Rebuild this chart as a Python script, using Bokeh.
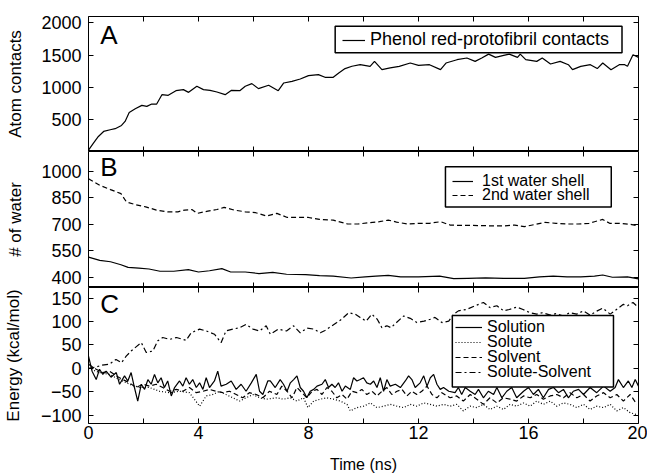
from bokeh.plotting import figure
from bokeh.layouts import column
from bokeh.models import (FixedTicker, LinearAxis, Range1d, Label, CustomJSTickFormatter,
                          Legend, LegendItem, BoxAnnotation)
from bokeh.embed import file_html
from bokeh.resources import INLINE

FONT = "Liberation Sans"

# ---------------- Panel A: atom contacts ----------------
time_a = [0, 0.18, 0.36, 0.55, 0.79, 0.97, 1.2, 1.33, 1.48, 1.7,
          1.94, 2.12, 2.3, 2.48, 2.67, 2.9, 3.18, 3.45, 3.64, 3.94,
          4.18, 4.42, 4.67, 4.97, 5.2, 5.5, 5.7, 5.94, 6.18, 6.55,
          6.9, 7.1, 7.4, 7.7, 8.0, 8.36, 8.6, 8.9, 9.1, 9.33,
          9.58, 9.88, 10.24, 10.4, 10.67, 10.97, 11.3, 11.7, 12.0, 12.4,
          12.8, 13.0, 13.4, 13.76, 14.06, 14.3, 14.55, 14.8, 15.1, 15.3,
          15.6, 15.7, 15.9, 16.3, 16.5, 16.8, 17.15, 17.45, 17.6, 17.9,
          18.25, 18.5, 18.7, 19.0, 19.3, 19.5, 19.6, 19.8, 20.0]
contacts = [20, 130, 234, 312, 338, 355, 405, 468, 608, 665,
            718, 702, 738, 738, 884, 874, 946, 962, 920, 1014,
            962, 952, 926, 884, 952, 946, 1014, 1056, 978, 1030,
            946, 1066, 1092, 1128, 1180, 1196, 1154, 1154, 1222, 1290,
            1326, 1350, 1325, 1402, 1273, 1300, 1325, 1376, 1340, 1350,
            1273, 1376, 1428, 1454, 1402, 1454, 1515, 1464, 1495, 1515,
            1464, 1515, 1428, 1402, 1454, 1361, 1402, 1350, 1273, 1325,
            1350, 1290, 1376, 1273, 1350, 1350, 1325, 1505, 1464]

# ---------------- Panel B: water shells ----------------
time_shell1 = [0, 0.41, 0.8, 1.18, 1.44, 1.83, 2.2, 2.6, 3.1, 3.63,
               4.0, 4.4, 4.85, 5.17, 5.7, 6.2, 6.7, 7.2, 7.9, 8.4,
               8.9, 9.55, 10.06, 10.45, 10.9, 11.35, 12.0, 12.77, 13.28, 13.8,
               14.44, 15.1, 15.85, 16.4, 16.9, 17.4, 17.9, 18.4, 18.7, 19.05,
               19.6, 20.0]
shell1 = [514, 496, 488, 471, 456, 452, 447, 434, 434, 443,
          430, 437, 449, 430, 430, 421, 428, 417, 415, 409,
          406, 396, 402, 406, 411, 402, 402, 406, 392, 394,
          396, 394, 394, 402, 406, 402, 402, 406, 413, 400,
          402, 391]
time_shell2 = [0, 0.41, 0.8, 1.18, 1.38, 1.7, 2.08, 2.47, 2.87, 3.25,
               3.5, 3.76, 3.95, 4.34, 4.67, 4.93, 5.3, 5.7, 6.08, 6.47,
               6.85, 7.23, 7.6, 8.0, 8.4, 8.9, 9.42, 9.8, 10.2, 10.58,
               10.9, 11.2, 11.6, 12.0, 12.4, 12.8, 13.15, 13.5, 13.9, 14.3,
               14.7, 15.1, 15.5, 15.85, 16.25, 16.6, 17.0, 17.4, 17.8, 18.2,
               18.4, 18.7, 18.95, 19.3, 19.7, 20.0]
shell2 = [959, 921, 897, 874, 827, 812, 799, 781, 771, 771,
          781, 784, 762, 775, 784, 796, 781, 771, 766, 747,
          762, 739, 739, 739, 728, 724, 702, 702, 709, 715,
          724, 713, 702, 706, 706, 715, 696, 694, 694, 693,
          691, 691, 696, 687, 700, 711, 706, 702, 702, 706,
          715, 728, 706, 706, 700, 691]

# ---------------- Panel C: energies ----------------
time_solution = [0.0, 0.13, 0.28, 0.40, 0.52, 0.64, 0.82, 1.01, 1.13, 1.31,
                 1.43, 1.55, 1.67, 1.79, 1.92, 2.04, 2.16, 2.28, 2.40, 2.52,
                 2.64, 2.76, 2.88, 3.01, 3.13, 3.31, 3.43, 3.55, 3.67, 3.79,
                 3.92, 4.04, 4.16, 4.28, 4.40, 4.58, 4.70, 4.82, 5.01, 5.19,
                 5.37, 5.55, 5.73, 5.92, 6.10, 6.22, 6.34, 6.52,
                 6.61, 6.79, 6.97, 7.09, 7.22, 7.34, 7.46, 7.58, 7.70, 7.82,
                 7.94, 8.06, 8.19, 8.31, 8.49, 8.61, 8.73, 8.85, 8.97, 9.09,
                 9.22, 9.34, 9.52, 9.64, 9.76, 9.88, 10.0, 10.12, 10.25, 10.37,
                 10.49, 10.61, 10.73, 10.85, 10.97, 11.16, 11.34, 11.52, 11.64, 11.76,
                 11.88, 12.06, 12.19, 12.31, 12.43, 12.55, 12.67, 12.79, 12.91, 13.1,
                 13.33, 13.45, 13.57, 13.7, 13.88, 14.06, 14.18, 14.36, 14.54, 14.73,
                 14.85, 15.03, 15.21, 15.39, 15.57, 15.82, 16.0, 16.18, 16.36, 16.54,
                 16.73, 16.91, 17.09, 17.27, 17.45, 17.63, 17.82, 18.0, 18.24, 18.48,
                 18.73, 18.97, 19.15, 19.27, 19.45, 19.63, 19.76, 19.88, 20.0]
solution = [26, -6, -24, -2, -13, -6, -19, -9, -34, -16,
            -27, -9, -41, -70, -34, -45, -24, -34, -13, -31,
            -20, -41, -27, -59, -41, -27, -38, -20, -34, -24,
            -41, -31, -45, -20, -41, -27, -6, -38, -34, -27,
            -45, -34, -49, -31, -13, -49, -56, -27,
            -27, -41, -24, -34, -49, -31, -24, -16, -41, -49,
            -63, -49, -45, -38, -34, -24, -41, -34, -41, -31,
            -49, -38, -45, -20, -27, -24, -20, -31, -34, -27,
            -41, -20, -49, -24, -38, -34, -41, -27, -16, -24,
            -41, -31, -16, -38, -20, -13, -34, -45, -41, -49,
            -52, -41, -56, -41, -49, -56, -45, -63, -49, -56,
            -41, -63, -49, -41, -63, -49, -41, -56, -45, -63,
            -45, -41, -52, -45, -63, -49, -45, -56, -41, -52,
            -38, -49, -41, -24, -41, -27, -41, -24, -38]

time_solute = [0.0, 0.4, 0.76, 1.13, 1.49, 1.85, 2.22, 2.58, 2.95, 3.31,
               3.67, 4.04, 4.28, 4.52, 4.76, 5.0, 5.25, 5.49, 5.73, 5.98,
               6.22, 6.46, 6.85, 7.09, 7.34, 7.58, 7.82, 7.98, 8.19, 8.43,
               8.67, 8.91, 9.16, 9.4, 9.52, 9.76, 10.0, 10.25, 10.49, 10.73,
               10.97, 11.22, 11.46, 11.7, 11.94, 12.19, 12.43, 12.67, 12.91, 13.15,
               13.39, 13.63, 13.88, 14.12, 14.36, 14.6, 14.85, 15.09, 15.33, 15.57,
               15.82, 16.06, 16.3, 16.54, 16.79, 17.03, 17.27, 17.51, 17.76, 18.0,
               18.24, 18.48, 18.73, 18.97, 19.21, 19.45, 19.7, 19.94]
solute = [0, -9, -13, -24, -34, -41, -41, -49, -52, -49,
          -52, -81, -59, -56, -49, -56, -63, -70, -63, -56,
          -63, -66, -63, -66, -63, -70, -63, -84, -70, -66,
          -63, -66, -70, -77, -91, -84, -81, -74, -84, -81,
          -77, -81, -84, -77, -81, -74, -77, -81, -77, -81,
          -77, -91, -81, -84, -77, -88, -81, -88, -77, -81,
          -74, -81, -70, -77, -70, -81, -74, -77, -84, -77,
          -88, -81, -84, -77, -91, -84, -95, -99]

time_solvent = [0.0, 0.28, 0.52, 0.76, 1.01, 1.25, 1.49, 1.73, 1.98, 2.22,
                2.46, 2.7, 2.95, 3.19, 3.43, 3.67, 3.92, 4.16, 4.4, 4.64,
                4.88, 5.13, 5.37, 5.61, 5.85, 6.1, 6.34, 6.58, 6.85, 7.03,
                7.22, 7.4, 7.58, 7.76, 7.94, 8.13, 8.31, 8.49, 8.67, 8.85,
                9.03, 9.22, 9.4, 9.58, 9.76, 9.94, 10.12, 10.31, 10.49, 10.67,
                10.85, 11.03, 11.22, 11.4, 11.58, 11.76, 11.94, 12.12, 12.31, 12.49,
                12.67, 12.85, 13.03, 13.15, 13.39, 13.63, 13.88, 14.12, 14.36, 14.6,
                14.85, 15.09, 15.33, 15.57, 15.82, 16.06, 16.3, 16.54, 16.79, 17.03,
                17.27, 17.51, 17.76, 18.0, 18.24, 18.48, 18.73, 18.97, 19.21, 19.45,
                19.7, 19.94]
solvent = [9, -2, -9, -6, -16, -24, -31, -41, -34, -38,
           -34, -41, -49, -45, -49, -41, -52, -49, -45, -49,
           -52, -49, -56, -63, -52, -56, -63, -49, -56, -38,
           -49, -63, -41, -52, -63, -49, -45, -56, -41, -49,
           -63, -56, -66, -49, -52, -45, -56, -49, -59, -49,
           -41, -56, -49, -45, -59, -49, -56, -49, -38, -56,
           -63, -52, -59, -63, -59, -70, -56, -66, -77, -63,
           -74, -63, -66, -70, -59, -63, -56, -66, -59, -56,
           -63, -52, -63, -56, -70, -59, -52, -63, -56, -70,
           -56, -77]

time_solute_solvent = [0.0, 0.28, 0.5, 0.76, 1.0, 1.2, 1.37, 1.55, 1.73, 1.92,
                       2.1, 2.34, 2.52, 2.7, 2.95, 3.2, 3.55, 3.73, 4.04, 4.28,
                       4.58, 4.82, 5.0, 5.25, 5.5, 5.73, 5.98, 6.22, 6.46, 6.61,
                       6.9, 7.2, 7.46, 7.7, 7.94, 8.2, 8.43, 8.6, 8.85, 9.03,
                       9.2, 9.46, 9.7, 9.88, 10.1, 10.3, 10.5, 10.67, 10.85, 11.0,
                       11.2, 11.46, 11.7, 11.94, 12.2, 12.43, 12.6, 12.85, 13.1, 13.28,
                       13.45, 13.75, 14.06, 14.36, 14.6, 14.85, 15.1, 15.3, 15.57, 15.8,
                       16.06, 16.3, 16.5, 16.8, 17.0, 17.27, 17.5, 17.75, 18.0, 18.24,
                       18.5, 18.7, 18.97, 19.2, 19.45, 19.6, 19.8, 20.0]
solute_solvent = [0, 3, 7, 9, 19, 12, 26, 37, 46, 55,
                  34, 37, 59, 66, 62, 66, 60, 76, 84, 80,
                  73, 55, 80, 84, 87, 94, 84, 80, 91, 73,
                  84, 80, 91, 76, 86, 84, 76, 81, 91, 98,
                  105, 119, 116, 109, 101, 116, 105, 87, 91, 87,
                  98, 112, 107, 98, 101, 105, 109, 98, 101, 116,
                  123, 126, 134, 141, 130, 134, 123, 126, 131, 126,
                  119, 116, 119, 114, 117, 112, 119, 116, 123, 114,
                  123, 129, 116, 126, 137, 134, 141, 130]

x_major_ticks = [0, 4, 8, 12, 16, 20]
x_minor_ticks = [2, 6, 10, 14, 18]
ticks_a = [500, 1000, 1500, 2000]
ticks_b = [400, 550, 700, 850, 1000]
ticks_c = [-100, -50, 0, 50, 100, 150]

BLANK = CustomJSTickFormatter(code="return ''")


def style_axis(ax, show_labels):
    ax.axis_line_color = None
    ax.major_tick_in = 5
    ax.major_tick_out = 0
    ax.minor_tick_in = 5
    ax.minor_tick_out = 0
    ax.major_tick_line_color = "black"
    ax.minor_tick_line_color = "black"
    ax.major_tick_line_width = 1
    ax.minor_tick_line_width = 1
    ax.major_label_text_font = FONT
    ax.major_label_text_font_size = "18px"
    if show_labels:
        ax.major_label_text_color = "black"
    else:
        ax.formatter = BLANK
        ax.major_label_text_color = None
        ax.major_label_standoff = 0


def make_panel(height, y0, y1, yticks, ylabel, ylab_standoff, top, bottom, xlabels):
    p = figure(width=647, height=height, x_range=Range1d(0, 20), y_range=Range1d(y0, y1),
               output_backend="svg", toolbar_location=None, title=None,
               x_axis_location=None, y_axis_location=None,
               min_border_left=88, min_border_right=9,
               min_border_top=top, min_border_bottom=bottom)
    p.xgrid.visible = False
    p.ygrid.visible = False
    p.outline_line_color = "black"
    p.outline_line_width = 1.0
    p.background_fill_color = "white"
    p.border_fill_color = "white"

    xt = FixedTicker(ticks=x_major_ticks, minor_ticks=x_minor_ticks)
    below = LinearAxis(ticker=xt)
    style_axis(below, xlabels)
    if xlabels:
        below.major_label_standoff = 2
        below.axis_label = "Time (ns)"
        below.axis_label_text_font = FONT
        below.axis_label_text_font_size = "16px"
        below.axis_label_text_font_style = "normal"
        below.axis_label_text_color = "black"
        below.axis_label_standoff = 14
    p.add_layout(below, "below")
    above = LinearAxis(ticker=xt)
    style_axis(above, False)
    p.add_layout(above, "above")

    yt = FixedTicker(ticks=yticks, minor_ticks=[])
    left = LinearAxis(ticker=yt)
    style_axis(left, True)
    left.major_label_standoff = 7
    left.axis_label = ylabel
    left.axis_label_text_font = FONT
    left.axis_label_text_font_size = "17px"
    left.axis_label_text_font_style = "normal"
    left.axis_label_text_color = "black"
    left.axis_label_standoff = ylab_standoff
    p.add_layout(left, "left")
    right = LinearAxis(ticker=yt)
    style_axis(right, False)
    p.add_layout(right, "right")
    return p


def legend_box(p, left, right, top, bottom):
    p.add_layout(BoxAnnotation(left=left, right=right, top=top, bottom=bottom,
                               fill_color="white", fill_alpha=1.0,
                               line_color="black", line_alpha=1.0, line_width=1.5))


def legend_row(p, renderer, label, x, y, glyph_w, standoff, size):
    leg = Legend(items=[LegendItem(label=label, renderers=[renderer])],
                 location=(x, y), margin=0, padding=0, spacing=0,
                 glyph_width=glyph_w, glyph_height=12, label_standoff=standoff,
                 label_height=12, label_text_font=FONT, label_text_font_size=size,
                 label_text_color="black", border_line_color=None,
                 background_fill_alpha=0.0)
    p.add_layout(leg)


def panel_letter(p, y, text):
    p.add_layout(Label(x=0.43, y=y, text=text, text_font=FONT, text_font_size="26px",
                       text_color="black", text_baseline="alphabetic"))


# Panel A
pa = make_panel(151, 0, 2100, ticks_a, "Atom contacts", 13, 16, 0, False)
ra = pa.line(time_a, contacts, line_color="black", line_width=1.2)
legend_box(pa, 8.97, 19.40, 1949, 1535)
legend_row(pa, ra, "Phenol red-protofibril contacts", 254, 101, 23, 5, "18px")
panel_letter(pa, 1816, "A")

# Panel B
pb = make_panel(136, 342, 1113, ticks_b, "# of water", 13, 0, 0, False)
rb1 = pb.line(time_shell1, shell1, line_color="black", line_width=1.2)
rb2 = pb.line(time_shell2, shell2, line_color="black", line_width=1.2, line_dash="5 3")
legend_box(pb, 12.98, 19.01, 1026, 798)
legend_row(pb, rb1, "1st water shell", 364, 97, 21, 9, "16px")
legend_row(pb, rb2, "2nd water shell", 364, 83, 21, 9, "16px")
panel_letter(pb, 1024, "B")

# Panel C
pc = make_panel(188, -118, 173, ticks_c, "Energy (kcal/mol)", 15, 0, 52, True)
rc1 = pc.line(time_solution, solution, line_color="black", line_width=1.2)
rc2 = pc.line(time_solute, solute, line_color="black", line_width=1.2, line_dash="1 2")
rc3 = pc.line(time_solvent, solvent, line_color="black", line_width=1.2, line_dash="5 3")
rc4 = pc.line(time_solute_solvent, solute_solvent, line_color="black", line_width=1.2,
              line_dash="6 3 2 3")
legend_box(pc, 13.23, 19.09, 113, -40)
legend_row(pc, rc1, "Solution", 367, 87, 27, 5, "16px")
legend_row(pc, rc2, "Solute", 367, 72, 27, 5, "16px")
legend_row(pc, rc3, "Solvent", 367, 57, 27, 5, "16px")
legend_row(pc, rc4, "Solute-Solvent", 367, 42, 27, 5, "16px")
panel_letter(pc, 138, "C")

layout = column(pa, pb, pc, spacing=0)
open("out.html", "w").write(file_html(layout, INLINE))
